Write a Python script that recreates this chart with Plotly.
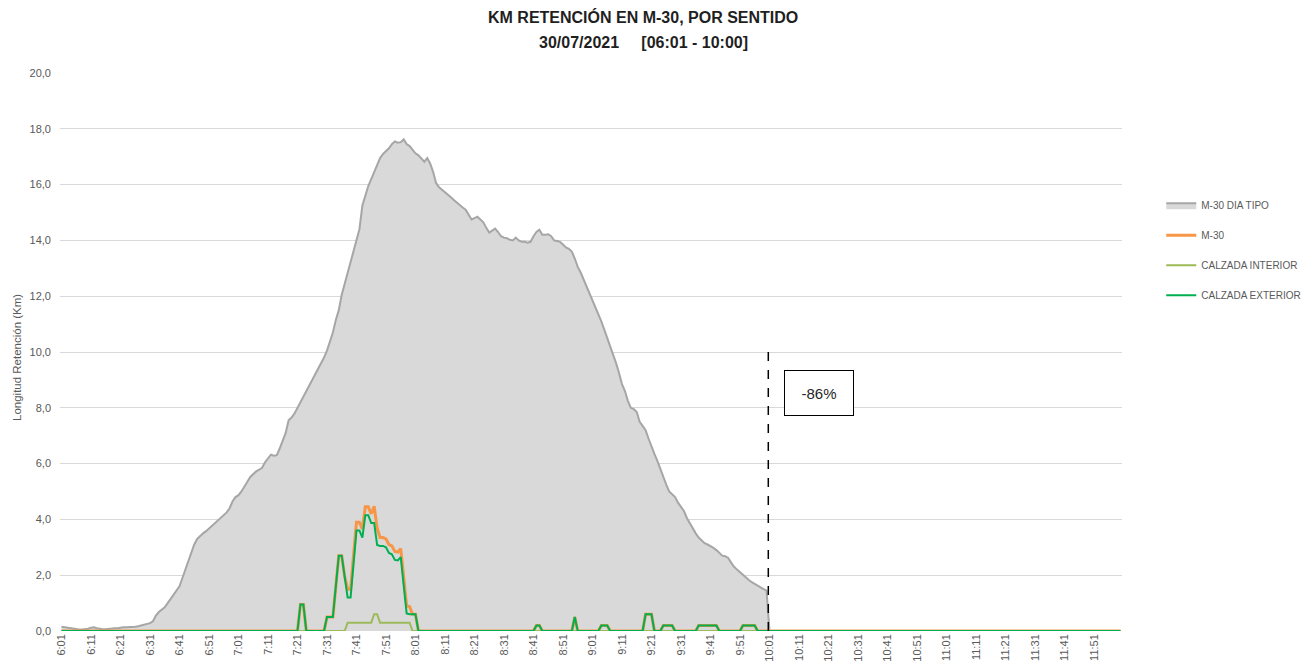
import plotly.graph_objects as go

# ---------------- data ----------------
# minute categories 6:01 .. 12:00
times = []
for h in range(6, 13):
    for m in range(0, 60):
        if (h == 6 and m == 0) or (h == 12 and m > 0):
            continue
        times.append(f"{h}:{m:02d}")

tick_labels = [t for t in times if t.endswith("1") and t[-2] in "012345"]

dia_tipo = [
    0.15, 0.13, 0.12, 0.10, 0.08, 0.06, 0.05, 0.05, 0.06, 0.08,
    0.12, 0.13, 0.10, 0.07, 0.06, 0.06, 0.08, 0.10, 0.10, 0.10,
    0.12, 0.13, 0.13, 0.13, 0.14, 0.15, 0.17, 0.20, 0.22, 0.25,
    0.28, 0.35, 0.55, 0.68, 0.78, 0.85, 1.00, 1.15, 1.30, 1.45,
    1.60, 1.90, 2.20, 2.55, 2.85, 3.10, 3.30, 3.42, 3.50, 3.58,
    3.68, 3.78, 3.88, 3.95, 4.05, 4.15, 4.25, 4.40, 4.65, 4.80,
    4.87, 5.00, 5.20, 5.35, 5.52, 5.62, 5.72, 5.78, 5.85, 6.05,
    6.20, 6.32, 6.28, 6.30, 6.55, 6.80, 7.10, 7.55, 7.65, 7.80,
    8.00, 8.15, 8.35, 8.55, 8.75, 8.95, 9.20, 9.40, 9.60, 9.80,
    10.05, 10.35, 10.70, 11.15, 11.50, 12.05, 12.45, 12.80, 13.20, 13.60,
    13.95, 14.40, 15.25, 15.65, 15.95, 16.20, 16.45, 16.75, 16.95, 17.10,
    17.20, 17.30, 17.45, 17.55, 17.50, 17.52, 17.62, 17.45, 17.38, 17.25,
    17.12, 17.05, 16.92, 16.82, 16.95, 16.75, 16.45, 16.05, 15.90, 15.82,
    15.72, 15.65, 15.55, 15.45, 15.35, 15.25, 15.18, 15.10, 14.90, 14.75,
    14.80, 14.85, 14.75, 14.65, 14.45, 14.28, 14.35, 14.42, 14.30, 14.15,
    14.10, 14.08, 14.02, 14.00, 14.10, 14.00, 13.95, 13.95, 13.92, 13.95,
    14.15, 14.30, 14.38, 14.20, 14.20, 14.22, 14.15, 14.00, 13.98, 13.95,
    13.85, 13.75, 13.70, 13.60, 13.35, 13.05, 12.85, 12.60, 12.40, 12.15,
    11.90, 11.65, 11.40, 11.10, 10.80, 10.50, 10.25, 9.95, 9.60, 9.25,
    8.85, 8.60, 8.25, 8.00, 7.95, 7.85, 7.50, 7.35, 7.20, 6.90,
    6.60, 6.35, 6.10, 5.80, 5.55, 5.25, 5.00, 4.90, 4.80, 4.60,
    4.45, 4.30, 4.05, 3.85, 3.65, 3.50, 3.35, 3.25, 3.15, 3.10,
    3.05, 2.98, 2.90, 2.78, 2.70, 2.68, 2.62, 2.45, 2.30, 2.20,
    2.10, 2.00, 1.90, 1.83, 1.75, 1.68, 1.62, 1.56, 1.50, 1.45,
    0.0,
]

m30 = ([0.0] * 81 + [0.95, 0.95] + [0.0] * 7 +
       [0.5, 0.5, 0.5, 1.6, 2.7, 2.7, 1.95, 1.5, 1.5, 2.7,
        3.9, 3.9, 3.65, 4.45, 4.45, 4.2, 4.47, 3.68, 3.35, 3.35,
        3.3, 3.1, 3.05, 2.85, 2.83, 2.95, 1.9, 0.9, 0.88, 0.6, 0.6] +
       [0.0] * 40 + [0.2, 0.2] + [0.0] * 11 + [0.5] + [0.0] * 8 +
       [0.2, 0.2, 0.2] + [0.0] * 12 + [0.6, 0.6, 0.6] + [0.0] * 3 +
       [0.2, 0.2, 0.2, 0.2] + [0.0] * 8 + [0.2] * 7 + [0.0] * 8 +
       [0.2] * 5 + [0.0] * 124)

interior = [0.0] * 97 + [0.3] * 9 + [0.6, 0.6] + [0.3] * 11 + [0.0] * 241

exterior = ([0.0] * 81 + [0.95, 0.95] + [0.0] * 7 +
            [0.5, 0.5, 0.5, 1.6, 2.7, 2.7, 1.95, 1.2, 1.2, 2.4,
             3.6, 3.6, 3.35, 4.15, 4.15, 3.87, 3.87, 3.08, 3.05, 3.05,
             3.0, 2.8, 2.75, 2.55, 2.53, 2.65, 1.6, 0.63, 0.6, 0.6, 0.6] +
            [0.0] * 40 + [0.2, 0.2] + [0.0] * 11 + [0.5] + [0.0] * 8 +
            [0.2, 0.2, 0.2] + [0.0] * 12 + [0.6, 0.6, 0.6] + [0.0] * 3 +
            [0.2, 0.2, 0.2, 0.2] + [0.0] * 8 + [0.2] * 7 + [0.0] * 8 +
            [0.2] * 5 + [0.0] * 124)

series_names = ["M-30 DIA TIPO", "M-30", "CALZADA INTERIOR", "CALZADA EXTERIOR"]
title_line1 = "KM RETENCIÓN EN M-30, POR SENTIDO"
title_line2 = "30/07/2021&nbsp;&nbsp;&nbsp;&nbsp;&nbsp;[06:01 - 10:00]"
y_title = "Longitud Retención (Km)"
change_label = "-86%"

# ---------------- figure ----------------
FONT = "Liberation Sans, Arial, sans-serif"
fig = go.Figure()

fig.add_trace(go.Scatter(
    x=times[:len(dia_tipo)], y=dia_tipo, name=series_names[0],
    mode="lines", fill="tozeroy", fillcolor="#D9D9D9",
    line=dict(color="#A6A6A6", width=2), legendgroup="a"))
fig.add_trace(go.Scatter(
    x=times, y=m30, name=series_names[1], mode="lines",
    line=dict(color="#F79646", width=3), legendgroup="b"))
fig.add_trace(go.Scatter(
    x=times, y=interior, name=series_names[2], mode="lines",
    line=dict(color="#9BBB59", width=2), legendgroup="c"))
fig.add_trace(go.Scatter(
    x=times, y=exterior, name=series_names[3], mode="lines",
    line=dict(color="#00B050", width=2), legendgroup="d"))

fig.add_shape(type="line", xref="x", yref="y", x0=239.6, x1=239.6, y0=0, y1=10,
              line=dict(color="black", width=1.5, dash="dash"))

fig.add_annotation(x=256.9, y=8.53, xref="x", yref="y", text=change_label,
                   showarrow=False, width=66, height=42,
                   bordercolor="black", borderwidth=1, bgcolor="white",
                   font=dict(family=FONT, size=15, color="#262626"))

# title lines
fig.add_annotation(x=0.5494, y=1.1004, xref="paper", yref="paper",
                   text="<b>" + title_line1 + "</b>", showarrow=False,
                   xanchor="center", yanchor="middle",
                   font=dict(family=FONT, size=16, color="#1F1F1F"))
fig.add_annotation(x=0.5494, y=1.0538, xref="paper", yref="paper",
                   text="<b>" + title_line2 + "</b>", showarrow=False,
                   xanchor="center", yanchor="middle",
                   font=dict(family=FONT, size=16, color="#1F1F1F"))
# y axis title
fig.add_annotation(x=-0.0405, y=0.491, xref="paper", yref="paper",
                   text=y_title, showarrow=False, textangle=-90,
                   xanchor="center", yanchor="middle",
                   font=dict(family=FONT, size=11.5, color="#595959"))

fig.update_layout(
    width=1309, height=661,
    margin=dict(l=52, r=194, t=65, b=38),
    paper_bgcolor="white", plot_bgcolor="white",
    separators=",.",
    legend=dict(x=1.036, xanchor="left", y=0.789, yanchor="top",
                font=dict(family=FONT, size=10, color="#595959"),
                traceorder="grouped", tracegroupgap=11,
                bgcolor="rgba(0,0,0,0)"),
    showlegend=True,
)

fig.update_xaxes(
    type="category", range=[-0.5, 359.5],
    tickmode="array", tickvals=tick_labels, ticktext=tick_labels,
    tickangle=-90, showgrid=False, zeroline=False, showline=False,
    tickfont=dict(family=FONT, size=11, color="#595959"),
    automargin=False, ticks="")

fig.update_yaxes(
    range=[0, 20], dtick=2, tickformat=".1f",
    showgrid=True, gridcolor="#D9D9D9", gridwidth=1,
    zeroline=False, showline=False, ticklabelstandoff=8,
    tickfont=dict(family=FONT, size=11, color="#595959"),
    automargin=False)

fig.write_html("out.html")
